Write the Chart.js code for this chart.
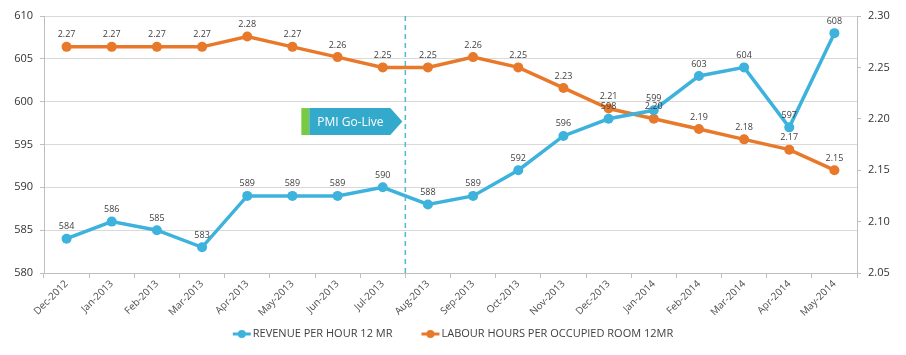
<!DOCTYPE html>
<html>
<head>
<meta charset="utf-8">
<script src="https://cdn.jsdelivr.net/npm/chart.js@4/dist/chart.umd.min.js"></script>
<style>
html,body{margin:0;padding:0;background:#fff;}
#wrap{width:906px;height:355px;}
</style>
</head>
<body>
<div id="wrap"><canvas id="c" width="906" height="355"></canvas></div>
<script>
const categories = ["Dec-2012","Jan-2013","Feb-2013","Mar-2013","Apr-2013","May-2013","Jun-2013","Jul-2013","Aug-2013","Sep-2013","Oct-2013","Nov-2013","Dec-2013","Jan-2014","Feb-2014","Mar-2014","Apr-2014","May-2014"];
const revenuePerHour = [584,586,585,583,589,589,589,590,588,589,592,596,598,599,603,604,597,608];
const labourHours = [2.27,2.27,2.27,2.27,2.28,2.27,2.26,2.25,2.25,2.26,2.25,2.23,2.21,2.20,2.19,2.18,2.17,2.15];
const seriesNames = ["REVENUE PER HOUR 12 MR","LABOUR HOURS PER OCCUPIED ROOM 12MR"];
const annotationText = "PMI Go-Live";
const goLiveAfterIndex = 7;

const BLUE = "#3db2dc";
const ORANGE = "#e8792b";
const FONT = "'Open Sans', 'Noto Sans', sans-serif";

const overlayPlugin = {
  id: 'overlay',
  afterDatasetsDraw(chart) {
    const ctx = chart.ctx;
    const x = chart.scales.x, yL = chart.scales.y, area = chart.chartArea;
    const lx = (x.getPixelForValue(goLiveAfterIndex) + x.getPixelForValue(goLiveAfterIndex + 1)) / 2;
    ctx.save();
    ctx.strokeStyle = "#4dbbcc";
    ctx.lineWidth = 1.5;
    ctx.setLineDash([5, 4]);
    ctx.beginPath();
    ctx.moveTo(lx, area.top);
    ctx.lineTo(lx, area.bottom);
    ctx.stroke();
    ctx.setLineDash([]);
    const top = yL.getPixelForValue(599.25), bot = yL.getPixelForValue(596.1);
    const mid = (top + bot) / 2;
    ctx.fillStyle = "#7ac943";
    ctx.fillRect(lx - 104, top, 8, bot - top);
    ctx.fillStyle = "#33a9cc";
    ctx.beginPath();
    ctx.moveTo(lx - 96, top);
    ctx.lineTo(lx - 15, top);
    ctx.lineTo(lx - 3, mid);
    ctx.lineTo(lx - 15, bot);
    ctx.lineTo(lx - 96, bot);
    ctx.closePath();
    ctx.fill();
    ctx.fillStyle = "#ffffff";
    ctx.font = "12px " + FONT;
    ctx.textAlign = "center";
    ctx.textBaseline = "middle";
    ctx.fillText(annotationText, lx - 55, mid + 0.5);
    ctx.fillStyle = "#404040";
    ctx.font = "9px " + FONT;
    ctx.textBaseline = "middle";
    chart.data.datasets.forEach((ds, di) => {
      const meta = chart.getDatasetMeta(di);
      meta.data.forEach((pt, i) => {
        const v = ds.data[i];
        const txt = di === 0 ? String(v) : v.toFixed(2);
        ctx.fillText(txt, pt.x, pt.y - 12);
      });
    });
    ctx.restore();
  },
  afterDraw(chart) {
    const ctx = chart.ctx;
    ctx.save();
    ctx.font = "11px " + FONT;
    ctx.textBaseline = "middle";
    ctx.textAlign = "left";
    const y = 334;
    const items = chart.data.datasets.map(ds => ({text: ds.label, color: ds.borderColor}));
    const markW = 18, gapText = 2, gapItem = 29;
    let total = 0;
    items.forEach((it, i) => { total += markW + gapText + ctx.measureText(it.text).width + (i < items.length - 1 ? gapItem : 0); });
    let cx = 453 - total / 2;
    items.forEach(it => {
      ctx.strokeStyle = it.color; ctx.fillStyle = it.color; ctx.lineWidth = 3;
      ctx.beginPath(); ctx.moveTo(cx, y); ctx.lineTo(cx + markW, y); ctx.stroke();
      ctx.beginPath(); ctx.arc(cx + markW / 2, y, 4, 0, Math.PI * 2); ctx.fill();
      cx += markW + gapText;
      ctx.fillStyle = "#404040";
      ctx.fillText(it.text, cx, y);
      cx += ctx.measureText(it.text).width + gapItem;
    });
    ctx.restore();
  }
};

new Chart(document.getElementById('c'), {
  type: 'line',
  data: {
    labels: categories,
    datasets: [
      {label: seriesNames[0], data: revenuePerHour, yAxisID: 'y', borderColor: BLUE, backgroundColor: BLUE, borderWidth: 3.5, pointRadius: 5, pointBackgroundColor: BLUE, pointBorderWidth: 0, tension: 0},
      {label: seriesNames[1], data: labourHours, yAxisID: 'y1', borderColor: ORANGE, backgroundColor: ORANGE, borderWidth: 3.5, pointRadius: 5, pointBackgroundColor: ORANGE, pointBorderWidth: 0, tension: 0}
    ]
  },
  options: {
    responsive: false,
    animation: false,
    layout: {padding: {top: 16, bottom: 37, left: 0, right: 0}},
    plugins: {legend: {display: false}, tooltip: {enabled: false}},
    scales: {
      x: {
        offset: true,
        grid: {display: true, drawOnChartArea: false, drawTicks: true, tickLength: 5, color: '#bfbfbf', offset: true},
        border: {color: '#bfbfbf'},
        ticks: {minRotation: 45, maxRotation: 45, autoSkip: false, color: '#4d4d4d', font: {size: 10, family: FONT}, padding: 0},
        afterFit(s) { s.height = 45; }
      },
      y: {
        position: 'left', min: 580, max: 610,
        ticks: {stepSize: 5, color: '#333333', font: {size: 11, family: FONT}, padding: 7},
        grid: {color: '#d9d9d9', tickLength: 4, tickColor: '#bfbfbf'},
        border: {color: '#bfbfbf'},
        afterFit(s) { s.width = 44; }
      },
      y1: {
        position: 'right', min: 2.05, max: 2.30,
        ticks: {stepSize: 0.05, color: '#333333', font: {size: 11, family: FONT}, padding: 7, callback: v => Number(v).toFixed(2)},
        grid: {drawOnChartArea: false, tickLength: 4, color: '#bfbfbf'},
        border: {color: '#bfbfbf'},
        afterFit(s) { s.width = 49; }
      }
    }
  },
  plugins: [overlayPlugin]
});
</script>
</body>
</html>
